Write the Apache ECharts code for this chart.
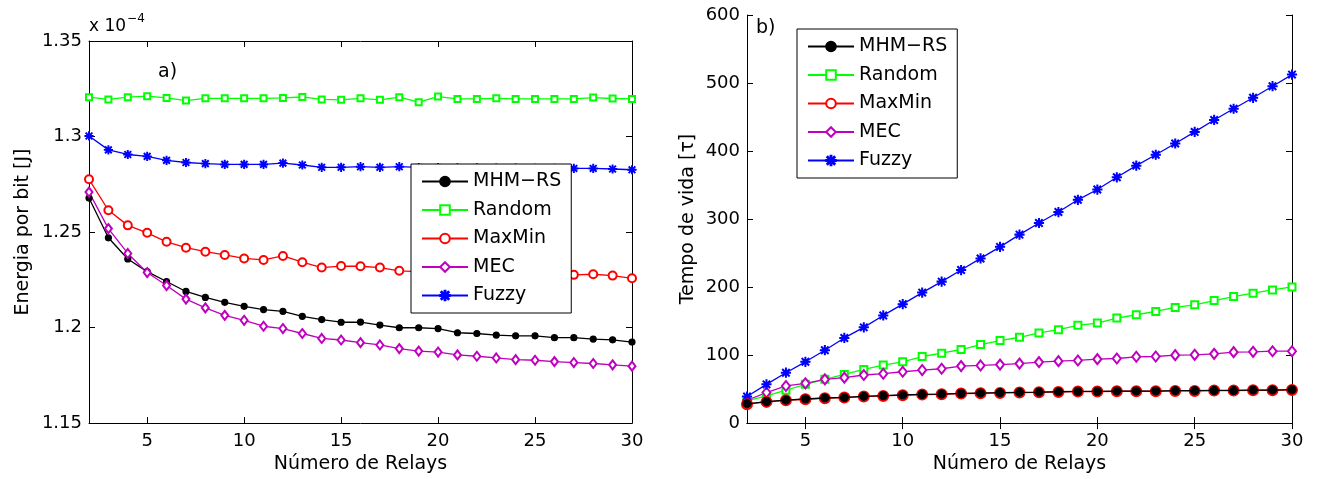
<!DOCTYPE html>
<html>
<head>
<meta charset="utf-8">
<script src="https://cdn.jsdelivr.net/npm/echarts@6/dist/echarts.min.js"></script>
<style>
html,body{margin:0;padding:0;background:#fff;}
#chart{width:1317px;height:479px;}
</style>
</head>
<body>
<div id="chart"></div>
<script>
// ---------- data ----------
const relays = [2,3,4,5,6,7,8,9,10,11,12,13,14,15,16,17,18,19,20,21,22,23,24,25,26,27,28,29,30];
const seriesNames = ['MHM\u2212RS','Random','MaxMin','MEC','Fuzzy'];
const xTickValues = [5,10,15,20,25,30];

// (a) Energia por bit, in units of 1e-4 J
const energyMHMRS = [1.2678,1.2470,1.2359,1.2293,1.2241,1.2189,1.2158,1.2132,1.2111,1.2094,1.2085,1.2059,1.2042,1.2028,1.2029,1.2013,1.1999,1.1999,1.1995,1.1973,1.1969,1.1961,1.1957,1.1957,1.1947,1.1947,1.1940,1.1936,1.1924];
const energyRandom = [1.3206,1.3194,1.3206,1.3211,1.3202,1.3188,1.3200,1.3200,1.3200,1.3200,1.3202,1.3207,1.3194,1.3192,1.3200,1.3192,1.3206,1.3180,1.3209,1.3197,1.3197,1.3200,1.3197,1.3197,1.3197,1.3197,1.3204,1.3199,1.3197];
const energyMaxMin = [1.2776,1.2614,1.2535,1.2496,1.2449,1.2418,1.2397,1.2380,1.2362,1.2354,1.2375,1.2342,1.2314,1.2322,1.2321,1.2314,1.2297,1.2293,1.2291,1.2289,1.2287,1.2284,1.2282,1.2280,1.2278,1.2276,1.2279,1.2272,1.2258];
const energyMEC = [1.2709,1.2518,1.2388,1.2288,1.2220,1.2149,1.2103,1.2064,1.2038,1.2007,1.1995,1.1969,1.1943,1.1935,1.1921,1.1909,1.1890,1.1877,1.1872,1.1857,1.1850,1.1841,1.1832,1.1829,1.1822,1.1817,1.1812,1.1805,1.1798];
const energyFuzzy = [1.3003,1.2930,1.2906,1.2896,1.2875,1.2864,1.2858,1.2854,1.2854,1.2854,1.2861,1.2851,1.2839,1.2839,1.2842,1.2839,1.2842,1.2838,1.2837,1.2836,1.2836,1.2835,1.2835,1.2834,1.2834,1.2833,1.2833,1.2830,1.2826];

// (b) Tempo de vida
const lifeMHMRS = [28.3,31.5,33.9,35.4,36.9,37.8,39.3,40.3,41.3,42.2,42.7,43.7,44.2,44.7,45.2,45.6,46.1,46.6,46.6,47.1,47.1,47.1,47.6,47.6,48.1,48.1,48.6,48.6,49.1];
const lifeRandom = [32.7,40.0,48.3,57.0,64.3,71.6,78.9,85.3,90.1,97.9,102.8,108.2,115.5,121.3,126.2,132.5,137.4,143.7,147.1,154.4,159.3,164.2,170.0,173.9,180.2,186.1,191.0,195.8,200.2];
const lifeMaxMin = [27.8,31.2,33.6,35.1,36.6,37.5,39.0,40.0,41.0,41.9,42.4,43.4,43.9,44.4,44.9,45.3,45.8,46.3,46.3,46.8,46.8,46.8,47.3,47.3,47.8,47.8,48.3,48.3,48.8];
const lifeMEC = [33.6,44.9,54.6,58.5,64.3,66.8,70.7,72.6,75.5,78.0,79.9,83.8,84.8,86.0,87.5,89.7,91.1,92.1,94.0,95.0,97.5,97.9,99.9,100.4,101.8,104.3,104.8,105.7,105.7];
const lifeFuzzy = [39.0,57.0,74.1,90.1,107.2,125.2,140.8,158.3,174.9,191.9,208.0,225.0,242.1,259.1,277.1,294.2,310.3,328.3,343.4,361.4,378.5,394.5,411.1,428.1,445.7,462.2,478.3,495.3,512.4];

// ---------- styling ----------
const FONT = '"DejaVu Sans", "Liberation Sans", Arial, sans-serif';
const colors = ['#000000','#00ff00','#ff0000','#bf00bf','#0000ff'];
const asterisk = 'path://M9.1,0L10.9,0L10.9,20L9.1,20Z M0,9.1L20,9.1L20,10.9L0,10.9Z M2,3.3L3.3,2L18,16.7L16.7,18Z M16.7,2L18,3.3L3.3,18L2,16.7Z';
const symbols = ['circle','emptyRect','emptyCircle','emptyDiamond', asterisk];
const symSizesA = [6,6,8,[7,9],8];
const symSizesB = [8,7,10,[8,10],9];

function pair(xs, ys){ return xs.map((x,i)=>[x, ys[i]]); }

function makeSeries(dataArrs, xi, yi, sizes, zs){
  return dataArrs.map((arr,k)=>({
    name: seriesNames[k],
    type: 'line',
    xAxisIndex: xi, yAxisIndex: yi,
    data: pair(relays, arr),
    symbol: symbols[k],
    symbolSize: sizes[k],
    showAllSymbol: true,
    animation: false,
    z: zs ? zs[k] : 2,
    lineStyle: {color: colors[k], width: 1.3},
    itemStyle: {color: colors[k], borderColor: colors[k], borderWidth: 1.2},
    emphasis: {disabled: true}
  }));
}

const tickStyle = {show:true, inside:true, length:6, lineStyle:{color:'#000', width:1}};
function xAxes(gi){
  return [
    {type:'value', gridIndex:gi, min:2, max:30, position:'bottom',
     name:'Número de Relays', nameLocation:'middle', nameGap:31,
     nameTextStyle:{fontSize:19, color:'#000', fontFamily:FONT},
     axisLine:{show:true, lineStyle:{color:'#000', width:1}},
     axisTick:Object.assign({customValues:xTickValues}, tickStyle),
     axisLabel:{customValues:xTickValues, fontSize:18, color:'#000', fontFamily:FONT, margin:9},
     splitLine:{show:false}},
    {type:'value', gridIndex:gi, min:2, max:30, position:'top',
     axisLine:{show:true, lineStyle:{color:'#000', width:1}},
     axisTick:Object.assign({customValues:xTickValues}, tickStyle),
     axisLabel:{show:false}, splitLine:{show:false}}
  ];
}
function yAxes(gi, min, max, interval, name, nameGap, fmt){
  return [
    {type:'value', gridIndex:gi, min:min, max:max, interval:interval, position:'left',
     name:name, nameLocation:'middle', nameGap:nameGap, nameRotate:90,
     nameTextStyle:{fontSize:19, color:'#000', fontFamily:FONT},
     axisLine:{show:true, lineStyle:{color:'#000', width:1}},
     axisTick:tickStyle,
     axisLabel:{fontSize:18, color:'#000', fontFamily:FONT, margin:7, formatter:fmt},
     splitLine:{show:false}},
    {type:'value', gridIndex:gi, min:min, max:max, interval:interval, position:'right',
     axisLine:{show:true, lineStyle:{color:'#000', width:1}},
     axisTick:tickStyle, axisLabel:{show:false}, splitLine:{show:false}}
  ];
}

function legendAt(left, top){
  return {
    data: seriesNames, orient:'vertical', left:left, top:top,
    padding:[8,10,8,10], itemWidth:46, itemHeight:12, itemGap:9.5,
    backgroundColor:'#fff', borderColor:'#000', borderWidth:1, borderRadius:0,
    textStyle:{fontSize:19, color:'#000', fontFamily:FONT, padding:[0,0,0,0]},
    selectedMode:false, z:20
  };
}

const chart = echarts.init(document.getElementById('chart'), null, {renderer:'canvas'});
const option = {
  backgroundColor:'#fff',
  animation:false,
  textStyle:{fontFamily:FONT},
  grid:[
    {left:89, top:41, width:543, height:385, containLabel:false},
    {left:747, top:15, width:545, height:411, containLabel:false}
  ],
  xAxis: xAxes(0).concat(xAxes(1)),
  yAxis: yAxes(0, 1.15, 1.35, 0.05, 'Energia por bit [J]', 56, v=>String(+(+v).toFixed(2)))
    .concat(yAxes(1, 0, 600, 100, 'Tempo de vida [\u03c4]', 49, v=>String(Math.round(v)))),
  legend:[legendAt(411,164), legendAt(797,29)],
  series: makeSeries([energyMHMRS, energyRandom, energyMaxMin, energyMEC, energyFuzzy], 0, 0, symSizesA)
    .concat(makeSeries([lifeMHMRS, lifeRandom, lifeMaxMin, lifeMEC, lifeFuzzy], 2, 2, symSizesB, [4,2,3,2,2])),
  graphic:[
    {type:'text', left:89, top:13, style:{
      text:'{b|x 10}{s|\u22124}',
      rich:{b:{fontSize:17, fontFamily:FONT, fill:'#000', padding:[8,0,0,0]}, s:{fontSize:12, fontFamily:FONT, fill:'#000', padding:[0,0,8,1]}},
      fill:'#000'}},
    {type:'text', left:158, top:63, style:{text:'a)', fontSize:19, fontFamily:FONT, fill:'#000'}},
    {type:'text', left:756, top:19, style:{text:'b)', fontSize:19, fontFamily:FONT, fill:'#000'}}
  ]
};
chart.setOption(option);
</script>
</body>
</html>
